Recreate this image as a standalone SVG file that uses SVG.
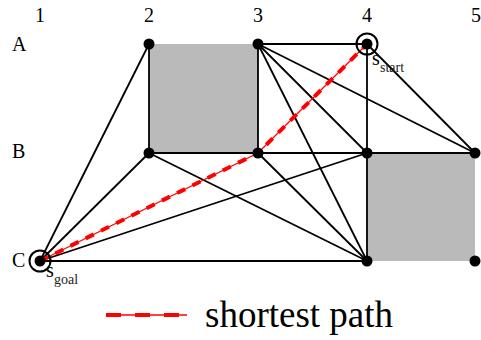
<svg xmlns="http://www.w3.org/2000/svg" width="481" height="340" viewBox="0 0 481 340">
<style>
.lbl{font-family:"Liberation Serif","Times New Roman",serif;font-size:20px;fill:#000}
.sub{font-family:"Liberation Serif","Times New Roman",serif;font-size:14px;fill:#222}
.edge{stroke:#000;stroke-width:1.8;fill:none}
.obs{fill:#bababa;stroke:none}
.dot{fill:#000}
.ring{fill:none;stroke:#000;stroke-width:2}
.pthin{stroke:#ff0000;stroke-width:1.3;fill:none}
.pdash{stroke:#ff0000;stroke-width:4;fill:none;stroke-dasharray:9,8}
</style>
<rect width="481" height="340" fill="#fff"/>
<g id="obstacles">
<rect class="obs" x="149" y="44" width="109" height="109"/>
<rect class="obs" x="367" y="153" width="108" height="108"/>
</g>
<g id="labels">
<text class="lbl" x="40" y="22" text-anchor="middle">1</text>
<text class="lbl" x="149" y="22" text-anchor="middle">2</text>
<text class="lbl" x="258" y="22" text-anchor="middle">3</text>
<text class="lbl" x="367" y="22" text-anchor="middle">4</text>
<text class="lbl" x="476" y="22" text-anchor="middle">5</text>
<text class="lbl" x="12" y="51">A</text>
<text class="lbl" x="12" y="158">B</text>
<text class="lbl" x="12" y="267">C</text>
</g>
<g id="connectors">
<line class="edge" x1="149" y1="44" x2="149" y2="153"/>
<line class="edge" x1="258" y1="44" x2="258" y2="153"/>
<line class="edge" x1="258" y1="44" x2="367" y2="44"/>
<line class="edge" x1="258" y1="44" x2="475" y2="153"/>
<line class="edge" x1="258" y1="44" x2="367" y2="153"/>
<line class="edge" x1="258" y1="44" x2="367" y2="261"/>
<line class="edge" x1="367" y1="44" x2="367" y2="261"/>
<line class="edge" x1="367" y1="44" x2="475" y2="153"/>
<line class="edge" x1="149" y1="153" x2="475" y2="153"/>
<line class="edge" x1="149" y1="153" x2="367" y2="261"/>
<line class="edge" x1="258" y1="153" x2="367" y2="261"/>
<line class="edge" x1="40" y1="261" x2="149" y2="44"/>
<line class="edge" x1="40" y1="261" x2="149" y2="153"/>
<line class="edge" x1="40" y1="261" x2="367" y2="153"/>
<line class="edge" x1="40" y1="261" x2="367" y2="261"/>
</g>
<g id="path">
<polyline class="pthin" points="40,261 258,153 367,44"/>
<polyline class="pdash" points="40,261 258,153 367,44"/>
</g>
<g id="A2"><circle class="dot" cx="149" cy="44" r="5.5"/></g>
<g id="A3"><circle class="dot" cx="258" cy="44" r="5.5"/></g>
<g id="A4"><circle class="dot" cx="367" cy="44" r="5.5"/><circle class="ring" cx="367" cy="44" r="10.5"/>
<text class="lbl" x="372" y="65">s</text><text class="sub" x="380" y="72">start</text></g>
<g id="B2"><circle class="dot" cx="149" cy="153" r="5.5"/></g>
<g id="B3"><circle class="dot" cx="258" cy="153" r="5.5"/></g>
<g id="B4"><circle class="dot" cx="367" cy="153" r="5.5"/></g>
<g id="B5"><circle class="dot" cx="475" cy="153" r="5.5"/></g>
<g id="C1"><circle class="dot" cx="40" cy="261" r="5.5"/><circle class="ring" cx="40" cy="261" r="10.5"/>
<text class="lbl" x="46" y="277">s</text><text class="sub" x="54" y="284">goal</text></g>
<g id="C4"><circle class="dot" cx="367" cy="261" r="5.5"/></g>
<g id="C5"><circle class="dot" cx="475" cy="261" r="5.5"/></g>
<g id="legend">
<line class="pthin" x1="106" y1="315" x2="187" y2="315"/>
<line x1="106" y1="315" x2="187" y2="315" stroke="#ff0000" stroke-width="4" stroke-dasharray="15,14"/>
<text x="205" y="327" font-family="Liberation Serif,Times New Roman,serif" font-size="37" fill="#000">shortest path</text>
</g>
</svg>
